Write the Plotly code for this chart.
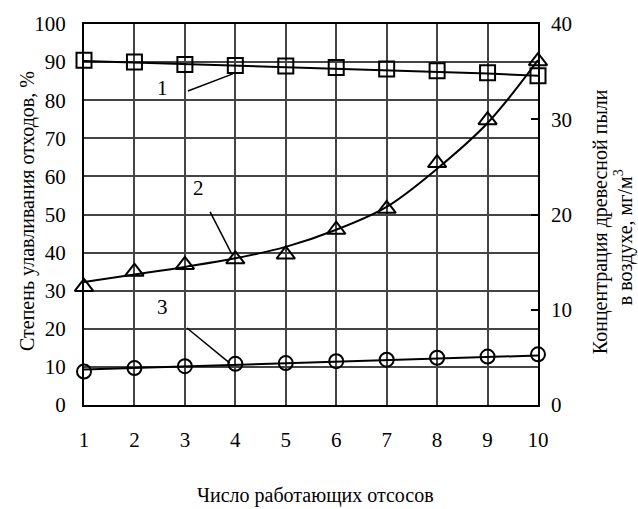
import plotly.graph_objects as go

x = [1, 2, 3, 4, 5, 6, 7, 8, 9, 10]

# Series 1 — степень улавливания (squares), left axis, %
s1_points = [90.5, 90.0, 89.4, 89.1, 89.0, 88.6, 88.2, 87.7, 87.2, 86.4]
s1_trend = [90.3, 89.9, 89.5, 89.1, 88.7, 88.3, 87.9, 87.5, 87.0, 86.4]

# Series 2 — концентрация древесной пыли (triangles), right axis, мг/м3
s2_points = [12.4, 14.0, 14.7, 15.3, 15.8, 18.4, 20.6, 25.4, 29.9, 36.1]
s2_trend = [12.9, 13.7, 14.5, 15.4, 16.6, 18.4, 20.8, 24.8, 29.6, 36.2]

# Series 3 — circles, left axis
s3_points = [8.8, 9.7, 10.2, 10.8, 11.0, 11.5, 11.9, 12.4, 12.7, 13.3]
s3_trend = [9.3, 9.7, 10.1, 10.5, 10.9, 11.3, 11.7, 12.1, 12.5, 13.0]

left_ticks = [0, 10, 20, 30, 40, 50, 60, 70, 80, 90, 100]
right_ticks = [0, 10, 20, 30, 40]

FONT = "Liberation Serif"
MK = dict(color="rgba(0,0,0,0)", line=dict(color="black", width=2))

fig = go.Figure()

fig.add_trace(go.Scatter(x=x, y=s1_trend, mode="lines", line=dict(color="black", width=2), yaxis="y"))
fig.add_trace(go.Scatter(x=x, y=s3_trend, mode="lines", line=dict(color="black", width=2), yaxis="y"))
fig.add_trace(go.Scatter(x=x, y=s2_trend, mode="lines", line=dict(color="black", width=2, shape="spline"), yaxis="y2"))

fig.add_trace(go.Scatter(x=x, y=s1_points, mode="markers", cliponaxis=False,
                         marker=dict(symbol="square", size=15, **MK), yaxis="y"))
fig.add_trace(go.Scatter(x=x, y=s3_points, mode="markers", cliponaxis=False,
                         marker=dict(symbol="circle", size=14, **MK), yaxis="y"))
fig.add_trace(go.Scatter(x=x, y=s2_points, mode="markers", cliponaxis=False,
                         marker=dict(symbol="triangle-up", size=16, **MK), yaxis="y2"))

leaders = [((3.06, 82.4), (3.95, 86.9)), ((3.5, 50.7), (3.93, 39.6)), ((3.04, 20.2), (3.89, 11.0))]
for (x0, y0), (x1, y1) in leaders:
    fig.add_shape(type="line", xref="x", yref="y", x0=x0, y0=y0, x1=x1, y1=y1,
                  line=dict(color="black", width=1.5))
labels = [("1", 2.55, 83.2), ("2", 3.26, 57.0), ("3", 2.55, 25.7)]
for t, lx, ly in labels:
    fig.add_annotation(text=t, x=lx, y=ly, xref="x", yref="y", showarrow=False,
                       xanchor="center", yanchor="middle",
                       font=dict(family=FONT, size=21, color="black"))

TF = dict(family=FONT, size=20, color="black")
fig.add_annotation(text="Степень улавливания отходов, %", xref="paper", yref="paper",
                   x=-0.1256, y=0.509, textangle=-90, showarrow=False,
                   xanchor="center", yanchor="middle", font=TF)
fig.add_annotation(text="Концентрация древесной пыли", xref="paper", yref="paper",
                   x=1.1366, y=0.48, textangle=-90, showarrow=False,
                   xanchor="center", yanchor="middle", font=TF)
fig.add_annotation(text="в воздухе, мг/м<sup>3</sup>", xref="paper", yref="paper",
                   x=1.19, y=0.441, textangle=-90, showarrow=False,
                   xanchor="center", yanchor="middle", font=TF)
fig.add_annotation(text="Число работающих отсосов", xref="paper", yref="paper",
                   x=0.509, y=-0.238, showarrow=False,
                   xanchor="center", yanchor="middle", font=TF)

fig.update_layout(
    width=638, height=509,
    margin=dict(l=84, r=100, t=24, b=104),
    paper_bgcolor="white", plot_bgcolor="white",
    showlegend=False,
    font=dict(family=FONT, size=21, color="black"),
    xaxis=dict(range=[1, 10], tickvals=x, ticks="", showgrid=True,
               gridcolor="#444", gridwidth=1.5, showline=True, linecolor="black",
               linewidth=2, mirror=True, zeroline=False, ticklabelstandoff=15,
               tickfont=dict(family=FONT, size=21)),
    yaxis=dict(range=[0, 100], tickvals=left_ticks, ticks="", showgrid=True,
               gridcolor="#444", gridwidth=1.5, showline=True, linecolor="black",
               linewidth=2, mirror=True, zeroline=False, ticklabelstandoff=12,
               tickfont=dict(family=FONT, size=21)),
    yaxis2=dict(range=[0, 40], tickvals=right_ticks, overlaying="y", side="right",
                ticks="inside", ticklen=7, tickwidth=1.5, tickcolor="black",
                showgrid=False, zeroline=False, showline=False, ticklabelstandoff=12,
                tickfont=dict(family=FONT, size=21)),
)

fig.write_html("out.html")
